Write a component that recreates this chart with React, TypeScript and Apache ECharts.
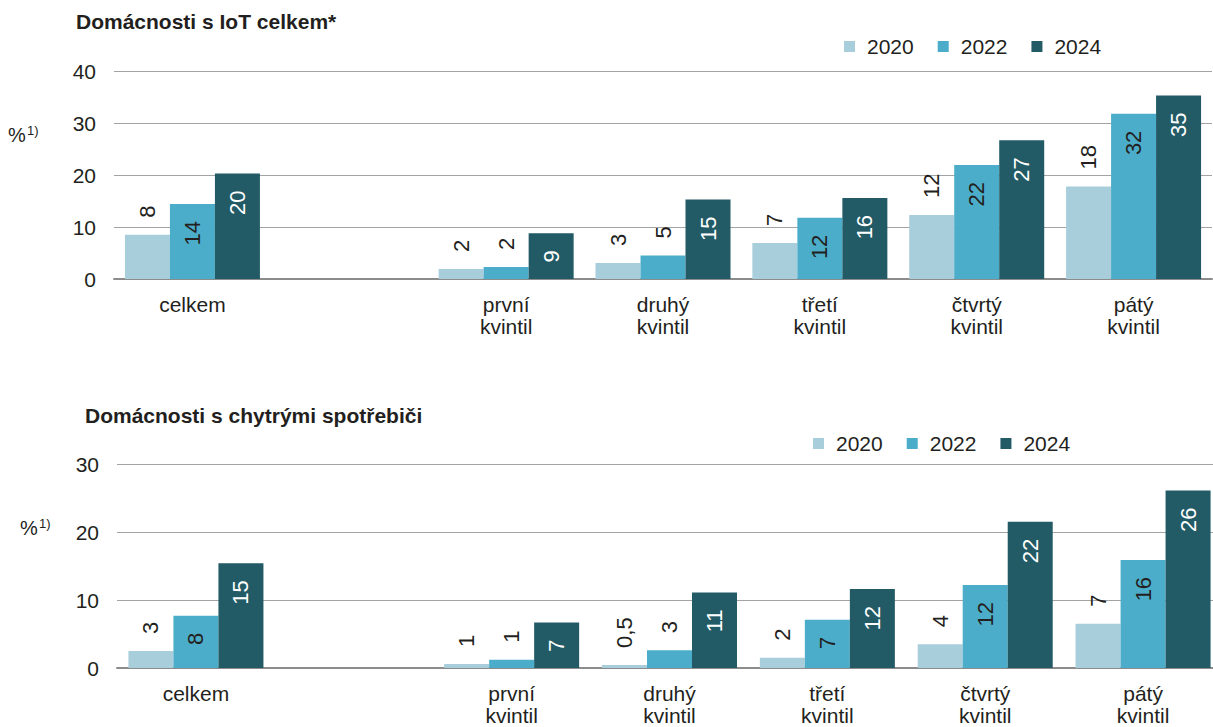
import React, { useEffect, useRef } from "react";
import * as echarts from "echarts";

const categories = ["celkem", "", "první\nkvintil", "druhý\nkvintil", "třetí\nkvintil", "čtvrtý\nkvintil", "pátý\nkvintil"];
const years = ["2020", "2022", "2024"];

// Top chart: Domácnosti s IoT celkem*
const iot2020 = [8.5, null, 1.9, 3.1, 6.9, 12.3, 17.8];
const iot2022 = [14.4, null, 2.3, 4.5, 11.8, 21.9, 31.8];
const iot2024 = [20.3, null, 8.8, 15.3, 15.6, 26.7, 35.3];
const iot2020Labels = ["8", "", "2", "3", "7", "12", "18"];
const iot2022Labels = ["14", "", "2", "5", "12", "22", "32"];
const iot2024Labels = ["20", "", "9", "15", "16", "27", "35"];
const iotTicks = { min: 0, max: 40, interval: 10 };

// Bottom chart: Domácnosti s chytrými spotřebiči
const smart2020 = [2.5, null, 0.6, 0.45, 1.5, 3.5, 6.5];
const smart2022 = [7.7, null, 1.2, 2.6, 7.1, 12.2, 15.9];
const smart2024 = [15.4, null, 6.7, 11.1, 11.6, 21.5, 26.1];
const smart2020Labels = ["3", "", "1", "0,5", "2", "4", "7"];
const smart2022Labels = ["8", "", "1", "3", "7", "12", "16"];
const smart2024Labels = ["15", "", "7", "11", "12", "22", "26"];
const smartTicks = { min: 0, max: 30, interval: 10 };

const titles = ["Domácnosti s IoT celkem*", "Domácnosti s chytrými spotřebiči"];

const COLORS = ["#A8CEDB", "#4BADC9", "#225A66"];
const TEXT = "#231F20";
const FONT = "'Liberation Sans', Arial, sans-serif";

const GRIDS = [
  { left: 114, top: 71, width: 1098, height: 208 },
  { left: 117, top: 464, width: 1105, height: 204 },
];

function buildSeries(
  name: string,
  values: (number | null)[],
  labels: string[],
  color: string,
  gridIndex: number,
  pxPerUnit: number,
  alwaysOutside: boolean,
  insideColor: string
) {
  const data = values.map((v, i) => {
    if (v === null) return "-";
    const inside = !alwaysOutside && v * pxPerUnit > 35;
    return {
      value: v,
      label: {
        show: true,
        formatter: labels[i],
        position: inside ? "insideTop" : "top",
        align: inside ? "right" : "left",
        verticalAlign: "middle",
        rotate: 90,
        distance: 17,
        color: inside ? insideColor : TEXT,
        fontSize: 22,
        fontFamily: FONT,
      },
    };
  });
  return {
    name,
    type: "bar",
    xAxisIndex: gridIndex,
    yAxisIndex: gridIndex,
    barWidth: 45,
    barGap: "0%",
    itemStyle: { color },
    data,
  };
}

export default function App() {
  const ref = useRef<HTMLDivElement>(null);
  useEffect(() => {
    if (!ref.current) return;
    const chart = echarts.init(ref.current, undefined, { renderer: "svg" });
    const ppuTop = GRIDS[0].height / iotTicks.max;
    const ppuBot = GRIDS[1].height / smartTicks.max;

    const xAxisBase = (gridIndex: number) => ({
      type: "category",
      gridIndex,
      data: categories,
      axisTick: { show: false },
      axisLine: { show: true, lineStyle: { color: "#8C8C8C", width: 2 } },
      axisLabel: {
        color: TEXT,
        fontSize: 21,
        fontFamily: FONT,
        lineHeight: 22,
        margin: 14,
        interval: 0,
      },
    });
    const yAxisBase = (gridIndex: number, t: { min: number; max: number; interval: number }) => ({
      type: "value",
      gridIndex,
      min: t.min,
      max: t.max,
      interval: t.interval,
      axisLine: { show: false },
      axisTick: { show: false },
      splitLine: { lineStyle: { color: "#A3A3A3", width: 1 } },
      axisLabel: { color: TEXT, fontSize: 21, fontFamily: FONT, margin: 18 },
    });
    const legendBase = (left: number, top: number) => ({
      data: years,
      left,
      top,
      padding: 0,
      icon: "rect",
      itemWidth: 11,
      itemHeight: 11,
      itemGap: 24,
      selectedMode: false,
      textStyle: { color: TEXT, fontSize: 21, fontFamily: FONT, padding: [0, 0, 0, 7] },
    });

    chart.setOption({
      animation: false,
      title: [
        { text: titles[0], left: 76, top: 11, padding: 0, textStyle: { color: TEXT, fontSize: 21, fontWeight: "bold", fontFamily: FONT } },
        { text: titles[1], left: 85, top: 405, padding: 0, textStyle: { color: TEXT, fontSize: 21, fontWeight: "bold", fontFamily: FONT } },
      ],
      legend: [legendBase(844, 36), legendBase(813, 433)],
      grid: GRIDS.map((g) => ({ ...g, containLabel: false })),
      xAxis: [xAxisBase(0), xAxisBase(1)],
      yAxis: [yAxisBase(0, iotTicks), yAxisBase(1, smartTicks)],
      graphic: [
        { type: "text", left: 8, top: 125, style: { text: "%", fontSize: 20, fontFamily: FONT, fill: TEXT } },
        { type: "text", left: 27, top: 124, style: { text: "1)", fontSize: 13, fontFamily: FONT, fill: TEXT } },
        { type: "text", left: 20, top: 518, style: { text: "%", fontSize: 20, fontFamily: FONT, fill: TEXT } },
        { type: "text", left: 39, top: 517, style: { text: "1)", fontSize: 13, fontFamily: FONT, fill: TEXT } },
      ],
      series: [
        buildSeries(years[0], iot2020, iot2020Labels, COLORS[0], 0, ppuTop, true, TEXT),
        buildSeries(years[1], iot2022, iot2022Labels, COLORS[1], 0, ppuTop, false, TEXT),
        buildSeries(years[2], iot2024, iot2024Labels, COLORS[2], 0, ppuTop, false, "#FFFFFF"),
        buildSeries(years[0], smart2020, smart2020Labels, COLORS[0], 1, ppuBot, true, TEXT),
        buildSeries(years[1], smart2022, smart2022Labels, COLORS[1], 1, ppuBot, false, TEXT),
        buildSeries(years[2], smart2024, smart2024Labels, COLORS[2], 1, ppuBot, false, "#FFFFFF"),
      ],
    });
    return () => chart.dispose();
  }, []);
  return (
    <div style={{ position: "fixed", left: 0, top: 0, width: 1213, height: 727, overflow: "hidden", background: "#fff" }}>
      <div ref={ref} style={{ width: 1240, height: 727 }} />
    </div>
  );
}
